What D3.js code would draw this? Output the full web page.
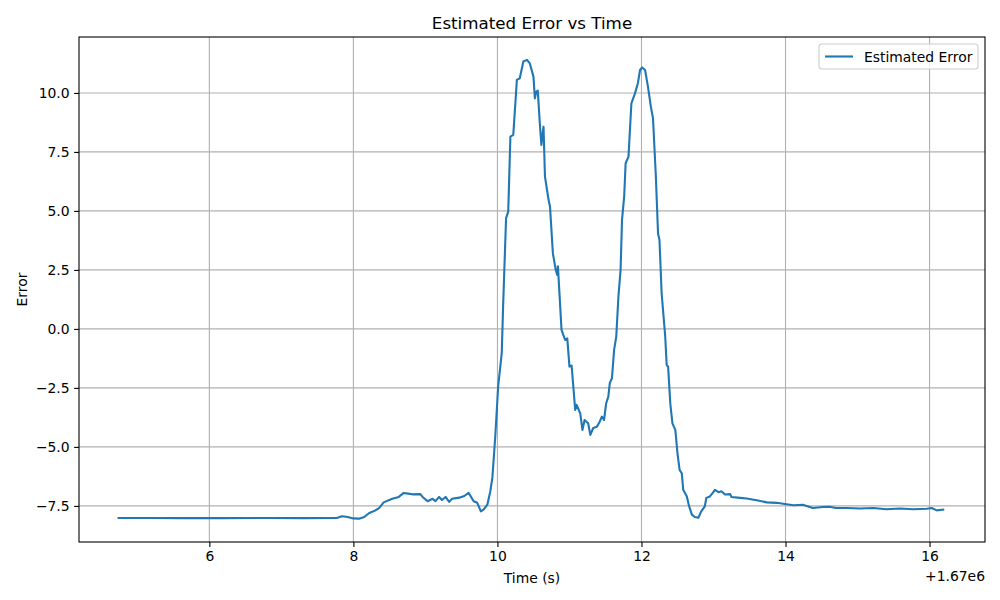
<!DOCTYPE html>
<html>
<head>
<meta charset="utf-8">
<script src="https://cdn.jsdelivr.net/npm/d3@7"></script>
<style>
  body { margin: 0; background: #fff; }
  svg text { font-family: "DejaVu Sans", sans-serif; fill: #000; }
</style>
</head>
<body>
<div id="chart"></div>
<script>
const WIDTH = 1000;
const HEIGHT = 600;
const MARGIN = { top: 37, right: 15, bottom: 58, left: 79 };

// time offsets in seconds from 1.67e6
const timeOffsets = [
  4.74, 5.2, 5.6, 6.2, 6.8, 7.3, 7.77, 7.84, 7.92, 8.0, 8.08, 8.15, 8.22, 8.30, 8.36, 8.42,
  8.54, 8.63, 8.70, 8.76, 8.82, 8.93, 8.96, 9.03, 9.10, 9.14, 9.19, 9.23, 9.28, 9.33, 9.37,
  9.47, 9.54, 9.60, 9.67, 9.72, 9.77, 9.81, 9.86, 9.90, 9.93, 9.97, 10.01, 10.06, 10.08,
  10.12, 10.15, 10.18, 10.22, 10.27, 10.31, 10.36, 10.41, 10.45, 10.50, 10.52, 10.54, 10.56,
  10.59, 10.61, 10.64, 10.66, 10.71, 10.73, 10.77, 10.81, 10.83, 10.84, 10.89, 10.94, 10.97,
  11.00, 11.03, 11.08, 11.10, 11.15, 11.18, 11.21, 11.26, 11.29, 11.33, 11.38, 11.42, 11.45,
  11.48, 11.51, 11.54, 11.56, 11.59, 11.62, 11.65, 11.68, 11.71, 11.73, 11.76, 11.78, 11.82,
  11.86, 11.91, 11.95, 11.98, 12.01, 12.05, 12.09, 12.13, 12.16, 12.20, 12.23, 12.25, 12.28,
  12.33, 12.35, 12.37, 12.40, 12.43, 12.47, 12.50, 12.53, 12.56, 12.58, 12.63, 12.66, 12.70,
  12.74, 12.79, 12.83, 12.88, 12.90, 12.95, 12.99, 13.02, 13.07, 13.11, 13.16, 13.23, 13.25,
  13.37, 13.46, 13.60, 13.74, 13.88, 13.99, 14.11, 14.24, 14.38, 14.52, 14.61, 14.70, 14.85,
  15.03, 15.22, 15.40, 15.59, 15.77, 15.96, 16.03, 16.10, 16.19
];
const errorValues = [
  -8.01, -8.01, -8.02, -8.02, -8.01, -8.02, -8.01, -7.94, -7.97, -8.03, -8.04, -7.97, -7.8, -7.7, -7.58, -7.35,
  -7.2, -7.12, -6.95, -6.98, -7.01, -7.0, -7.12, -7.3, -7.2, -7.3, -7.12, -7.25, -7.12, -7.33, -7.2,
  -7.15, -7.08, -6.95, -7.3, -7.37, -7.73, -7.65, -7.45, -6.9, -6.3, -4.56, -2.44, -1.03, 1.08,
  4.69, 4.97, 8.15, 8.22, 10.55, 10.62, 11.33, 11.40, 11.25, 10.69, 9.77, 10.06, 10.1,
  8.64, 7.80, 8.57, 6.45, 5.47, 5.18, 3.20, 2.50, 2.29, 2.65, -0.04, -0.47, -0.4,
  -1.6, -1.55, -3.43, -3.22, -3.58, -4.28, -3.86, -4.0, -4.49, -4.2, -4.15, -3.93, -3.72,
  -3.86, -3.15, -2.87, -2.30, -2.09, -0.89, -0.33, 1.37, 2.50, 4.62, 5.61, 7.02, 7.30,
  9.56, 9.98, 10.41, 10.97, 11.08, 10.97, 10.27, 9.42, 8.93, 6.45, 4.05, 3.77, 1.51,
  -0.33, -1.53, -1.6, -3.15, -4.0, -4.28, -5.27, -5.98, -6.12, -6.82, -7.1, -7.5, -7.87,
  -7.97, -8.0, -7.73, -7.52, -7.16, -7.1, -6.95, -6.82, -6.92, -6.88, -7.02, -7.0, -7.12,
  -7.16, -7.19, -7.26, -7.35, -7.37, -7.42, -7.47, -7.45, -7.59, -7.55, -7.54, -7.59, -7.59,
  -7.61, -7.59, -7.64, -7.61, -7.64, -7.62, -7.59, -7.69, -7.66
];

const xTicks = [6, 8, 10, 12, 14, 16];
const yTicks = [-7.5, -5.0, -2.5, 0.0, 2.5, 5.0, 7.5, 10.0];
const xDomain = [4.19, 16.77];
const yDomain = [-9.03, 12.37];

const TITLE = "Estimated Error vs Time";
const X_LABEL = "Time (s)";
const Y_LABEL = "Error";
const OFFSET_TEXT = "+1.67e6";
const SERIES_NAME = "Estimated Error";
const LINE_COLOR = "#1f77b4";

const plotW = WIDTH - MARGIN.left - MARGIN.right;
const plotH = HEIGHT - MARGIN.top - MARGIN.bottom;

const svg = d3.select("#chart").append("svg")
  .attr("width", WIDTH)
  .attr("height", HEIGHT);

svg.append("rect")
  .attr("width", WIDTH)
  .attr("height", HEIGHT)
  .attr("fill", "#fff");

const xScale = d3.scaleLinear().domain(xDomain).range([0, plotW]);
const yScale = d3.scaleLinear().domain(yDomain).range([plotH, 0]);

const g = svg.append("g")
  .attr("transform", "translate(" + MARGIN.left + "," + MARGIN.top + ")");

// grid
g.append("g").selectAll("line").data(xTicks).join("line")
  .attr("x1", d => xScale(d)).attr("x2", d => xScale(d))
  .attr("y1", 0).attr("y2", plotH)
  .attr("stroke", "#b0b0b0").attr("stroke-width", 1.1);

g.append("g").selectAll("line").data(yTicks).join("line")
  .attr("y1", d => yScale(d)).attr("y2", d => yScale(d))
  .attr("x1", 0).attr("x2", plotW)
  .attr("stroke", "#b0b0b0").attr("stroke-width", 1.1);

// the line
const line = d3.line()
  .x((d, i) => xScale(timeOffsets[i]))
  .y(d => yScale(d));

g.append("path")
  .datum(errorValues)
  .attr("d", line)
  .attr("fill", "none")
  .attr("stroke", LINE_COLOR)
  .attr("stroke-width", 2.1)
  .attr("stroke-linejoin", "round")
  .attr("stroke-linecap", "square");

// axes
const fmtMinus = s => s.replace("-", "\u2212");

const xAxis = g.append("g")
  .attr("transform", "translate(0," + plotH + ")")
  .call(d3.axisBottom(xScale).tickValues(xTicks).tickSize(4.9).tickPadding(4).tickFormat(d3.format("d")));

const yAxis = g.append("g")
  .call(d3.axisLeft(yScale).tickValues(yTicks).tickSize(4.9).tickPadding(4.5)
    .tickFormat(d => fmtMinus(d3.format(".1f")(d))));

[xAxis, yAxis].forEach(ax => {
  ax.select(".domain").remove();
  ax.selectAll(".tick line").attr("stroke", "#000").attr("stroke-width", 1.1);
  ax.selectAll(".tick text")
    .style("font-family", "DejaVu Sans")
    .style("font-size", "13.9px")
    .attr("fill", "#000");
});

// frame
g.append("rect")
  .attr("width", plotW)
  .attr("height", plotH)
  .attr("fill", "none")
  .attr("stroke", "#000")
  .attr("stroke-width", 1.1);

// titles
svg.append("text")
  .attr("x", MARGIN.left + plotW / 2)
  .attr("y", MARGIN.top - 8.5)
  .attr("text-anchor", "middle")
  .style("font-size", "16.7px")
  .text(TITLE);

svg.append("text")
  .attr("x", MARGIN.left + plotW / 2)
  .attr("y", 583)
  .attr("text-anchor", "middle")
  .style("font-size", "13.9px")
  .text(X_LABEL);

svg.append("text")
  .attr("transform", "translate(27," + (MARGIN.top + plotH / 2) + ") rotate(-90)")
  .attr("text-anchor", "middle")
  .style("font-size", "13.9px")
  .text(Y_LABEL);

svg.append("text")
  .attr("x", MARGIN.left + plotW)
  .attr("y", 581)
  .attr("text-anchor", "end")
  .style("font-size", "13.9px")
  .text(OFFSET_TEXT);

// legend
const legend = svg.append("g")
  .attr("transform", "translate(819,44)");

legend.append("rect")
  .attr("width", 159)
  .attr("height", 25)
  .attr("rx", 3)
  .attr("fill", "#fff")
  .attr("fill-opacity", 0.8)
  .attr("stroke", "#cccccc")
  .attr("stroke-width", 1.1);

legend.append("line")
  .attr("x1", 6).attr("x2", 34)
  .attr("y1", 12.5).attr("y2", 12.5)
  .attr("stroke", LINE_COLOR)
  .attr("stroke-width", 2.1);

legend.append("text")
  .attr("x", 45)
  .attr("y", 17.5)
  .style("font-size", "13.9px")
  .text(SERIES_NAME);
</script>
</body>
</html>
